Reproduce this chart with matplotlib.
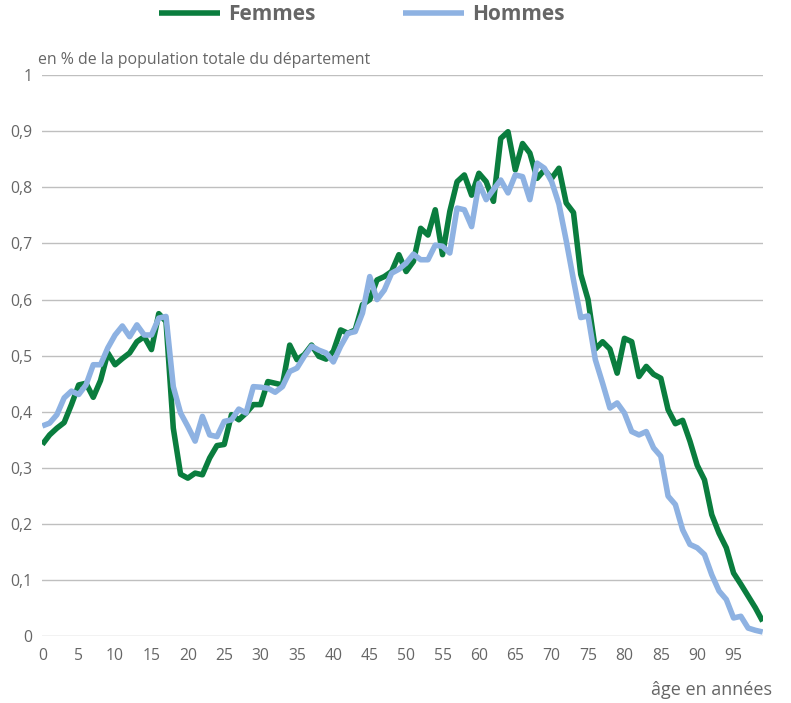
import matplotlib
matplotlib.use("Agg")
import matplotlib.pyplot as plt
import numpy as np

ages = list(range(100))

femmes = [
    0.342, 0.359, 0.371, 0.381, 0.413, 0.448, 0.451, 0.426, 0.456, 0.505,
    0.484, 0.495, 0.505, 0.525, 0.534, 0.511, 0.575, 0.561, 0.371, 0.289,
    0.282, 0.291, 0.288, 0.318, 0.340, 0.342, 0.395, 0.386, 0.398, 0.413,
    0.413, 0.454, 0.451, 0.448, 0.519, 0.493, 0.502, 0.519, 0.499, 0.494,
    0.508, 0.546, 0.540, 0.546, 0.591, 0.600, 0.635, 0.641, 0.650, 0.680,
    0.650, 0.668, 0.727, 0.715, 0.760, 0.680, 0.757, 0.810, 0.822, 0.786,
    0.825, 0.810, 0.775, 0.887, 0.899, 0.831, 0.878, 0.861, 0.816, 0.831,
    0.816, 0.834, 0.772, 0.755, 0.645, 0.600, 0.512, 0.525, 0.512, 0.469,
    0.531, 0.525, 0.463, 0.481, 0.467, 0.460, 0.404, 0.379, 0.385, 0.348,
    0.305, 0.279, 0.217, 0.184, 0.158, 0.113, 0.093, 0.072, 0.051, 0.027,
]

hommes = [
    0.375, 0.380, 0.395, 0.425, 0.437, 0.431, 0.448, 0.484, 0.484, 0.514,
    0.537, 0.553, 0.534, 0.555, 0.537, 0.537, 0.567, 0.570, 0.445, 0.398,
    0.374, 0.348, 0.392, 0.359, 0.356, 0.383, 0.386, 0.405, 0.398, 0.445,
    0.444, 0.442, 0.435, 0.445, 0.472, 0.478, 0.499, 0.517, 0.510, 0.505,
    0.489, 0.517, 0.540, 0.543, 0.576, 0.641, 0.600, 0.617, 0.647, 0.654,
    0.665, 0.681, 0.671, 0.671, 0.697, 0.695, 0.683, 0.763, 0.760, 0.730,
    0.807, 0.778, 0.796, 0.813, 0.790, 0.822, 0.819, 0.778, 0.843, 0.834,
    0.810, 0.770, 0.705, 0.635, 0.568, 0.571, 0.493, 0.451, 0.407, 0.416,
    0.398, 0.365, 0.359, 0.365, 0.336, 0.321, 0.250, 0.235, 0.190, 0.164,
    0.158, 0.146, 0.110, 0.081, 0.066, 0.033, 0.036, 0.015, 0.011, 0.008,
]

series_names = ["Femmes", "Hommes"]
xticks = list(range(0, 100, 5))
yticks = [0, 0.1, 0.2, 0.3, 0.4, 0.5, 0.6, 0.7, 0.8, 0.9, 1.0]
ytick_labels = ["0", "0,1", "0,2", "0,3", "0,4", "0,5", "0,6", "0,7", "0,8", "0,9", "1"]

GREEN = "#0a7d3e"
BLUE = "#8eb2e2"
TXT = "#666666"
GRID = "#bfbfbf"

plt.rcParams["font.family"] = ["Open Sans", "DejaVu Sans"]

fig = plt.figure(figsize=(7.91, 7.03), dpi=100)
ax = fig.add_axes([0.0535, 0.0946, 0.9107, 0.7987])

ax.plot(ages, femmes, color=GREEN, lw=4.0, label=series_names[0],
        solid_joinstyle="round", solid_capstyle="butt", zorder=3)
ax.plot(ages, hommes, color=BLUE, lw=4.0, label=series_names[1],
        solid_joinstyle="round", solid_capstyle="butt", zorder=4)

ax.set_xlim(0, 99)
ax.set_ylim(0, 1)
ax.set_xticks(xticks)
ax.set_xticklabels([str(t) for t in xticks])
ax.set_yticks(yticks)
ax.set_yticklabels(ytick_labels)
ax.tick_params(axis="both", length=0, labelsize=11.3, colors=TXT)
ax.tick_params(axis="x", pad=8)
ax.tick_params(axis="y", pad=7)
ax.grid(axis="y", color=GRID, lw=1.0)
ax.set_axisbelow(True)
for s in ax.spines.values():
    s.set_visible(False)

fig.text(38 / 791, 1 - 60 / 703, "en % de la population totale du département",
         fontsize=11.4, color=TXT, ha="left", va="center")
fig.text(772 / 791, 1 - 690 / 703, "âge en années",
         fontsize=13, color=TXT, ha="right", va="center")

leg = fig.legend(loc="center", bbox_to_anchor=(362 / 791, 1 - 15 / 703), ncol=2,
                 frameon=False, handlelength=2.9, handletextpad=0.42,
                 columnspacing=4.2, prop={"weight": "bold", "size": 15})
for t in leg.get_texts():
    t.set_color(TXT)
for l in leg.get_lines():
    l.set_linewidth(4.0)

fig.savefig("out.png", dpi=100)
